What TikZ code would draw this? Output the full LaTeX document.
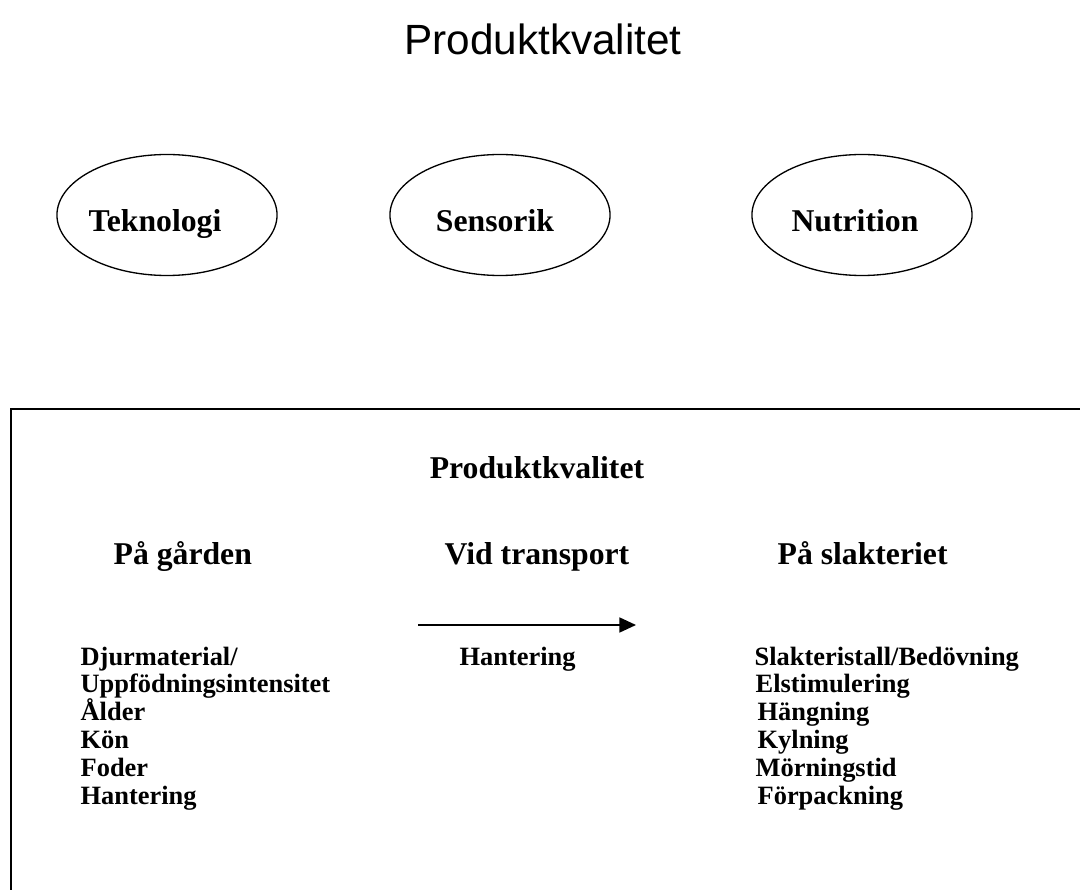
\documentclass[tikz,border=0pt]{standalone}
\usepackage{fontspec}
\setmainfont{Liberation Serif}
\newfontfamily\titlefont{Liberation Sans}
\usetikzlibrary{shapes.geometric, arrows.meta}

\begin{document}
\begin{tikzpicture}[x = 0.3785pt, y = -0.3785pt, line width = 0.5pt, every node/.style = {inner sep = 0pt, font = \bfseries\fontsize{12}{14}\selectfont}, area/.style = {draw, ellipse, minimum width = 83.3pt, minimum height = 45.8pt}, item/.style = {anchor = base west, font = \bfseries\fontsize{10}{12}\selectfont}]
    \useasboundingbox (0,0) rectangle (1080,890);
    \node[anchor = base, font = \titlefont\fontsize{16}{19}\selectfont] (title) at (543,55) {Produktkvalitet};
    % the three areas
    \node[area] (tek) at (167,215) {};
    \node[area] (sen) at (500,215) {};
    \node[area] (nut) at (862,215) {};
    \node[anchor = base] (tek-t) at (155,232) {Teknologi};
    \node[anchor = base] (sen-t) at (495,232) {Sensorik};
    \node[anchor = base] (nut-t) at (855,232) {Nutrition};
    % lower frame
    \coordinate (frame-a) at (11,891);
    \coordinate (frame-b) at (1081,409);
    \draw[line width = 0.6pt] (frame-a) |- (frame-b);
    \node[anchor = base] (chain) at (537,478) {Produktkvalitet};
    \node[anchor = base west] (farm) at (113,564) {På gården};
    \node[anchor = base west] (road) at (444,564) {Vid transport};
    \node[anchor = base west] (plant) at (777,564) {På slakteriet};
    \coordinate (go-a) at (418,625);
    \coordinate (go-b) at (636,625);
    \draw[line width = 0.6pt, -{Triangle[length = 6.3pt, width = 5.7pt]}] (go-a) -- (go-b);
    \node[item] (road-1) at (459,665) {Hantering};
    \foreach \t [count = \i] in {Djurmaterial/, Uppfödningsintensitet, Ålder, Kön, Foder, Hantering}
        \node[item] (farm-\i) at (80,{665 + (\i - 1) * 27.8}) {\t};
    \foreach \x/\t [count = \i] in {754/{Slakteristall/Bedövning}, 755/Elstimulering, 757/Hängning, 757/Kylning, 755/Mörningstid, 757/Förpackning}
        \node[item] (plant-\i) at (\x,{665 + (\i - 1) * 27.8}) {\t};
\end{tikzpicture}
\end{document}
